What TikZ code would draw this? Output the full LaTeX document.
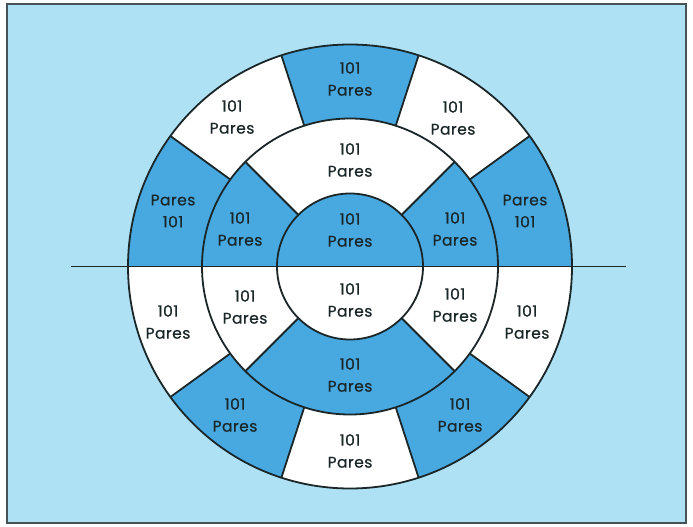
\documentclass[tikz,border=0pt]{standalone}
\usepackage{fontspec}
\setmainfont{Poppins}[LetterSpace=3,FakeBold=0.6]
\definecolor{bg}{HTML}{AFE1F5}
\definecolor{seg}{HTML}{48A9E1}
\definecolor{ink}{HTML}{1A2628}
\begin{document}
\begin{tikzpicture}[x=1pt,y=1pt,
  lab/.style={align=center, font=\fontsize{15.5}{22}\selectfont, text=ink, inner sep=0pt},
  edge/.style={draw=ink, line width=1.8pt}]
\useasboundingbox (0,0) rectangle (693,-527);
\fill[white] (0,0) rectangle (693,-527);
\filldraw[fill=bg, draw=ink!80, line width=1.8pt] (7,-4) rectangle (686,-523);
\begin{scope}[shift={(350,-266.5)}]
  \fill[white] (0,0) circle[radius=222];
  % outer ring blue segments
  \foreach \a [evaluate=\a as \b using \a+36] in {0,72,144,216,288}
    \fill[seg] (\a:148) arc[start angle=\a, end angle=\b, radius=148]
      -- (\b:222) arc[start angle=\b, end angle=\a, radius=222] -- cycle;
  % middle ring blue segments
  \foreach \a/\b in {0/45,135/180,225/315}
    \fill[seg] (\a:73) arc[start angle=\a, end angle=\b, radius=73]
      -- (\b:148) arc[start angle=\b, end angle=\a, radius=148] -- cycle;
  % inner top half
  \fill[seg] (73,0) arc[start angle=0, end angle=180, radius=73] -- cycle;
  % outlines
  \draw[edge] (0,0) circle[radius=73];
  \draw[edge] (0,0) circle[radius=148];
  \draw[edge] (0,0) circle[radius=222];
  \foreach \a in {36,72,108,144,216,252,288,324}
    \draw[edge] (\a:148) -- (\a:222);
  \foreach \a in {45,135,225,315}
    \draw[edge] (\a:73) -- (\a:148);
  \coordinate (hl) at (-279,0);
  \coordinate (hr) at (276,0);
  \draw[edge] (hl) -- (hr);
\end{scope}
% outer ring labels
\node[lab] (o18)  at (525,-211) {Pares\\101};
\node[lab] (o54)  at (453,-118) {101\\Pares};
\node[lab] (o90)  at (350,-79)  {101\\Pares};
\node[lab] (o126) at (232,-117) {101\\Pares};
\node[lab] (o162) at (173,-211) {Pares\\101};
\node[lab] (o198) at (168,-322) {101\\Pares};
\node[lab] (o234) at (235,-415) {101\\Pares};
\node[lab] (o270) at (350,-451) {101\\Pares};
\node[lab] (o306) at (460,-415) {101\\Pares};
\node[lab] (o342) at (527,-322) {101\\Pares};
% middle ring labels
\node[lab] (m90)  at (350,-160) {101\\Pares};
\node[lab] (m160) at (240,-229) {101\\Pares};
\node[lab] (m20)  at (455,-229) {101\\Pares};
\node[lab] (m200) at (245,-307) {101\\Pares};
\node[lab] (m340) at (455,-305) {101\\Pares};
\node[lab] (m270) at (350,-375) {101\\Pares};
% inner labels
\node[lab] (itop) at (350,-230) {101\\Pares};
\node[lab] (ibot) at (350,-300) {101\\Pares};
\end{tikzpicture}
\end{document}
